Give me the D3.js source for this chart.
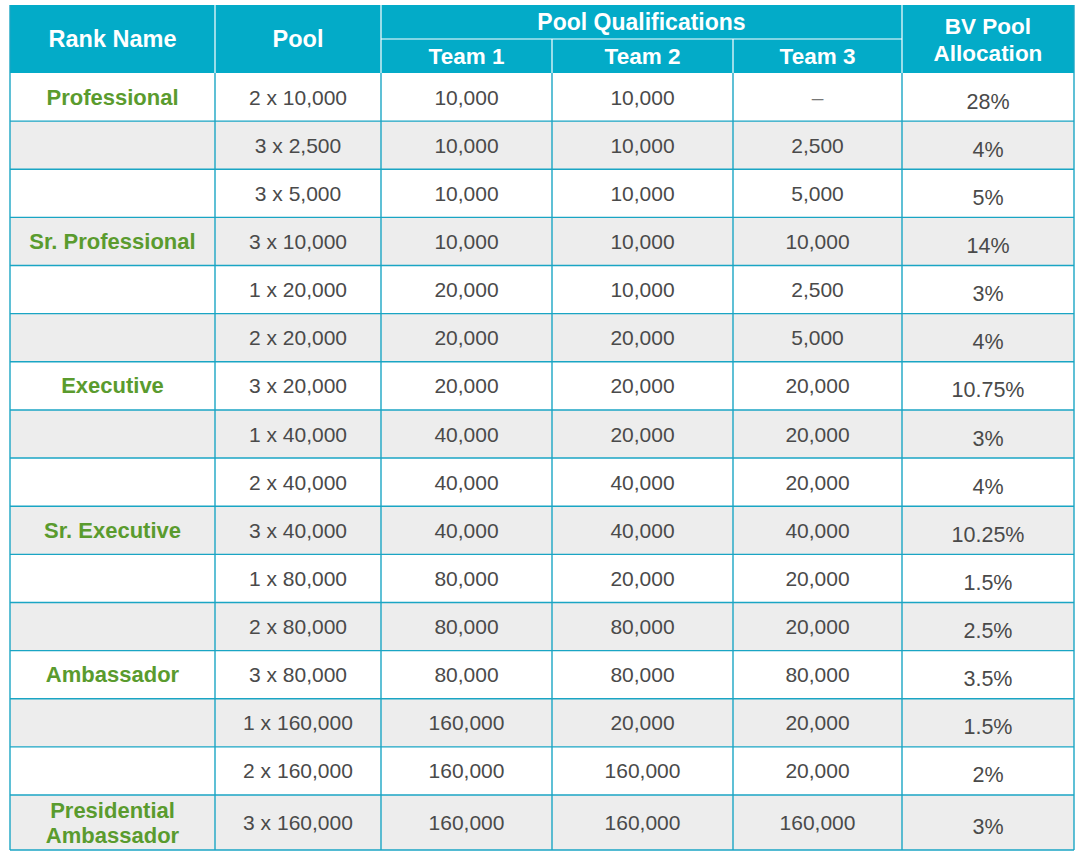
<!DOCTYPE html>
<html><head><meta charset="utf-8">
<script src="https://cdn.jsdelivr.net/npm/d3@7"></script>
<style>html,body{margin:0;padding:0;background:#fff;}svg{display:block;}</style>
</head><body>
<script>
const columns = ["Rank Name", "Pool", "Team 1", "Team 2", "Team 3", "BV Pool Allocation"];
const groupHeader = "Pool Qualifications";
const ranks = ["Professional", "", "", "Sr. Professional", "", "", "Executive", "", "", "Sr. Executive", "", "", "Ambassador", "", "", "Presidential Ambassador"];
const pools = ["2 x 10,000", "3 x 2,500", "3 x 5,000", "3 x 10,000", "1 x 20,000", "2 x 20,000", "3 x 20,000", "1 x 40,000", "2 x 40,000", "3 x 40,000", "1 x 80,000", "2 x 80,000", "3 x 80,000", "1 x 160,000", "2 x 160,000", "3 x 160,000"];
const team1 = ["10,000", "10,000", "10,000", "10,000", "20,000", "20,000", "20,000", "40,000", "40,000", "40,000", "80,000", "80,000", "80,000", "160,000", "160,000", "160,000"];
const team2 = ["10,000", "10,000", "10,000", "10,000", "10,000", "20,000", "20,000", "20,000", "40,000", "40,000", "20,000", "80,000", "80,000", "20,000", "160,000", "160,000"];
const team3 = ["–", "2,500", "5,000", "10,000", "2,500", "5,000", "20,000", "20,000", "20,000", "40,000", "20,000", "20,000", "80,000", "20,000", "20,000", "160,000"];
const allocation = ["28%", "4%", "5%", "14%", "3%", "4%", "10.75%", "3%", "4%", "10.25%", "1.5%", "2.5%", "3.5%", "1.5%", "2%", "3%"];

const W = 1082, H = 856;
const TEAL = "#03abc8", LINE = "#1aa5c4", GRAY = "#ededed", GREEN = "#5a9b2e", TXT = "#4a4a4a";
const colEdges = [10, 215, 381, 552, 733, 902, 1074];
const headTop = 5, headMid = 39, headBot = 73, lastTop = 795, bottom = 850;
const n = ranks.length;

const svg = d3.select("body").append("svg").attr("width", W).attr("height", H);
const x = i => colEdges[i];
const xc = i => (colEdges[i] + colEdges[i + 1]) / 2;
const yBand = d3.scaleBand().domain(d3.range(n - 1)).range([headBot, lastTop]).padding(0);
const rowTop = i => i < n - 1 ? yBand(i) : lastTop;
const rowH = i => i < n - 1 ? yBand.bandwidth() : bottom - lastTop;

// header
svg.append("rect").attr("x", x(0)).attr("y", headTop).attr("width", x(6) - x(0)).attr("height", headBot - headTop).attr("fill", TEAL);
const hl = svg.append("g").attr("stroke", "#fff").attr("stroke-width", 1.2);
[1, 2, 5].forEach(i => hl.append("line").attr("x1", x(i)).attr("x2", x(i)).attr("y1", headTop).attr("y2", headBot));
[3, 4].forEach(i => hl.append("line").attr("x1", x(i)).attr("x2", x(i)).attr("y1", headMid).attr("y2", headBot));
hl.append("line").attr("x1", x(2)).attr("x2", x(5)).attr("y1", headMid).attr("y2", headMid);

const ht = svg.append("g").attr("fill", "#fff").attr("font-family", "Liberation Sans, Arial, sans-serif").attr("font-weight", "bold").attr("font-size", 22.5).attr("text-anchor", "middle");
ht.append("text").attr("x", xc(0)).attr("y", (headTop + headBot) / 2 + 8).attr("font-size", 23.5).text(columns[0]);
ht.append("text").attr("x", xc(1)).attr("y", (headTop + headBot) / 2 + 8).attr("font-size", 23.5).text(columns[1]);
ht.append("text").attr("x", (x(2) + x(5)) / 2).attr("y", (headTop + headMid) / 2 + 8).attr("font-size", 23).text(groupHeader);
[2, 3, 4].forEach(i => ht.append("text").attr("x", xc(i)).attr("y", (headMid + headBot) / 2 + 8).text(columns[i]));
const bvWords = columns[5].split(" ");
ht.append("text").attr("x", xc(5)).attr("y", 34).text(bvWords.slice(0, 2).join(" "));
ht.append("text").attr("x", xc(5)).attr("y", 61).text(bvWords.slice(2).join(" "));

// body rows
const rows = d3.range(n).map(i => ({i, cells: [ranks[i], pools[i], team1[i], team2[i], team3[i], allocation[i]]}));
const g = svg.append("g");
g.selectAll("rect.row").data(rows).join("rect").attr("class", "row")
  .attr("x", x(0)).attr("width", x(6) - x(0))
  .attr("y", d => rowTop(d.i)).attr("height", d => rowH(d.i))
  .attr("fill", d => d.i % 2 === 1 ? GRAY : "#fff");

const lines = svg.append("g").attr("stroke", LINE).attr("stroke-width", 1.4);
rows.forEach(d => lines.append("line").attr("x1", x(0)).attr("x2", x(6)).attr("y1", rowTop(d.i) + rowH(d.i)).attr("y2", rowTop(d.i) + rowH(d.i)));
d3.range(7).forEach(i => lines.append("line").attr("x1", x(i)).attr("x2", x(i)).attr("y1", i === 0 || i === 6 ? headTop : headBot).attr("y2", bottom));

const tg = svg.append("g").attr("font-family", "Liberation Sans, Arial, sans-serif").attr("text-anchor", "middle");
rows.forEach(d => {
  const cy = rowTop(d.i) + rowH(d.i) / 2;
  d.cells.forEach((v, c) => {
    if (!v) return;
    if (c === 0) {
      const words = v === "Presidential Ambassador" ? ["Presidential", "Ambassador"] : [v];
      words.forEach((w, k) => tg.append("text").attr("x", xc(0)).attr("y", cy + 7.5 + (k - (words.length - 1) / 2) * 25)
        .attr("fill", GREEN).attr("font-weight", "bold").attr("font-size", 22).text(w));
    } else {
      tg.append("text").attr("x", xc(c)).attr("y", cy + 7.5 + (c === 5 ? 4 : 0))
        .attr("fill", v === "–" ? "#777" : TXT).attr("font-size", c === 5 ? 21.5 : 21).text(v);
    }
  });
});
</script>
</body></html>
